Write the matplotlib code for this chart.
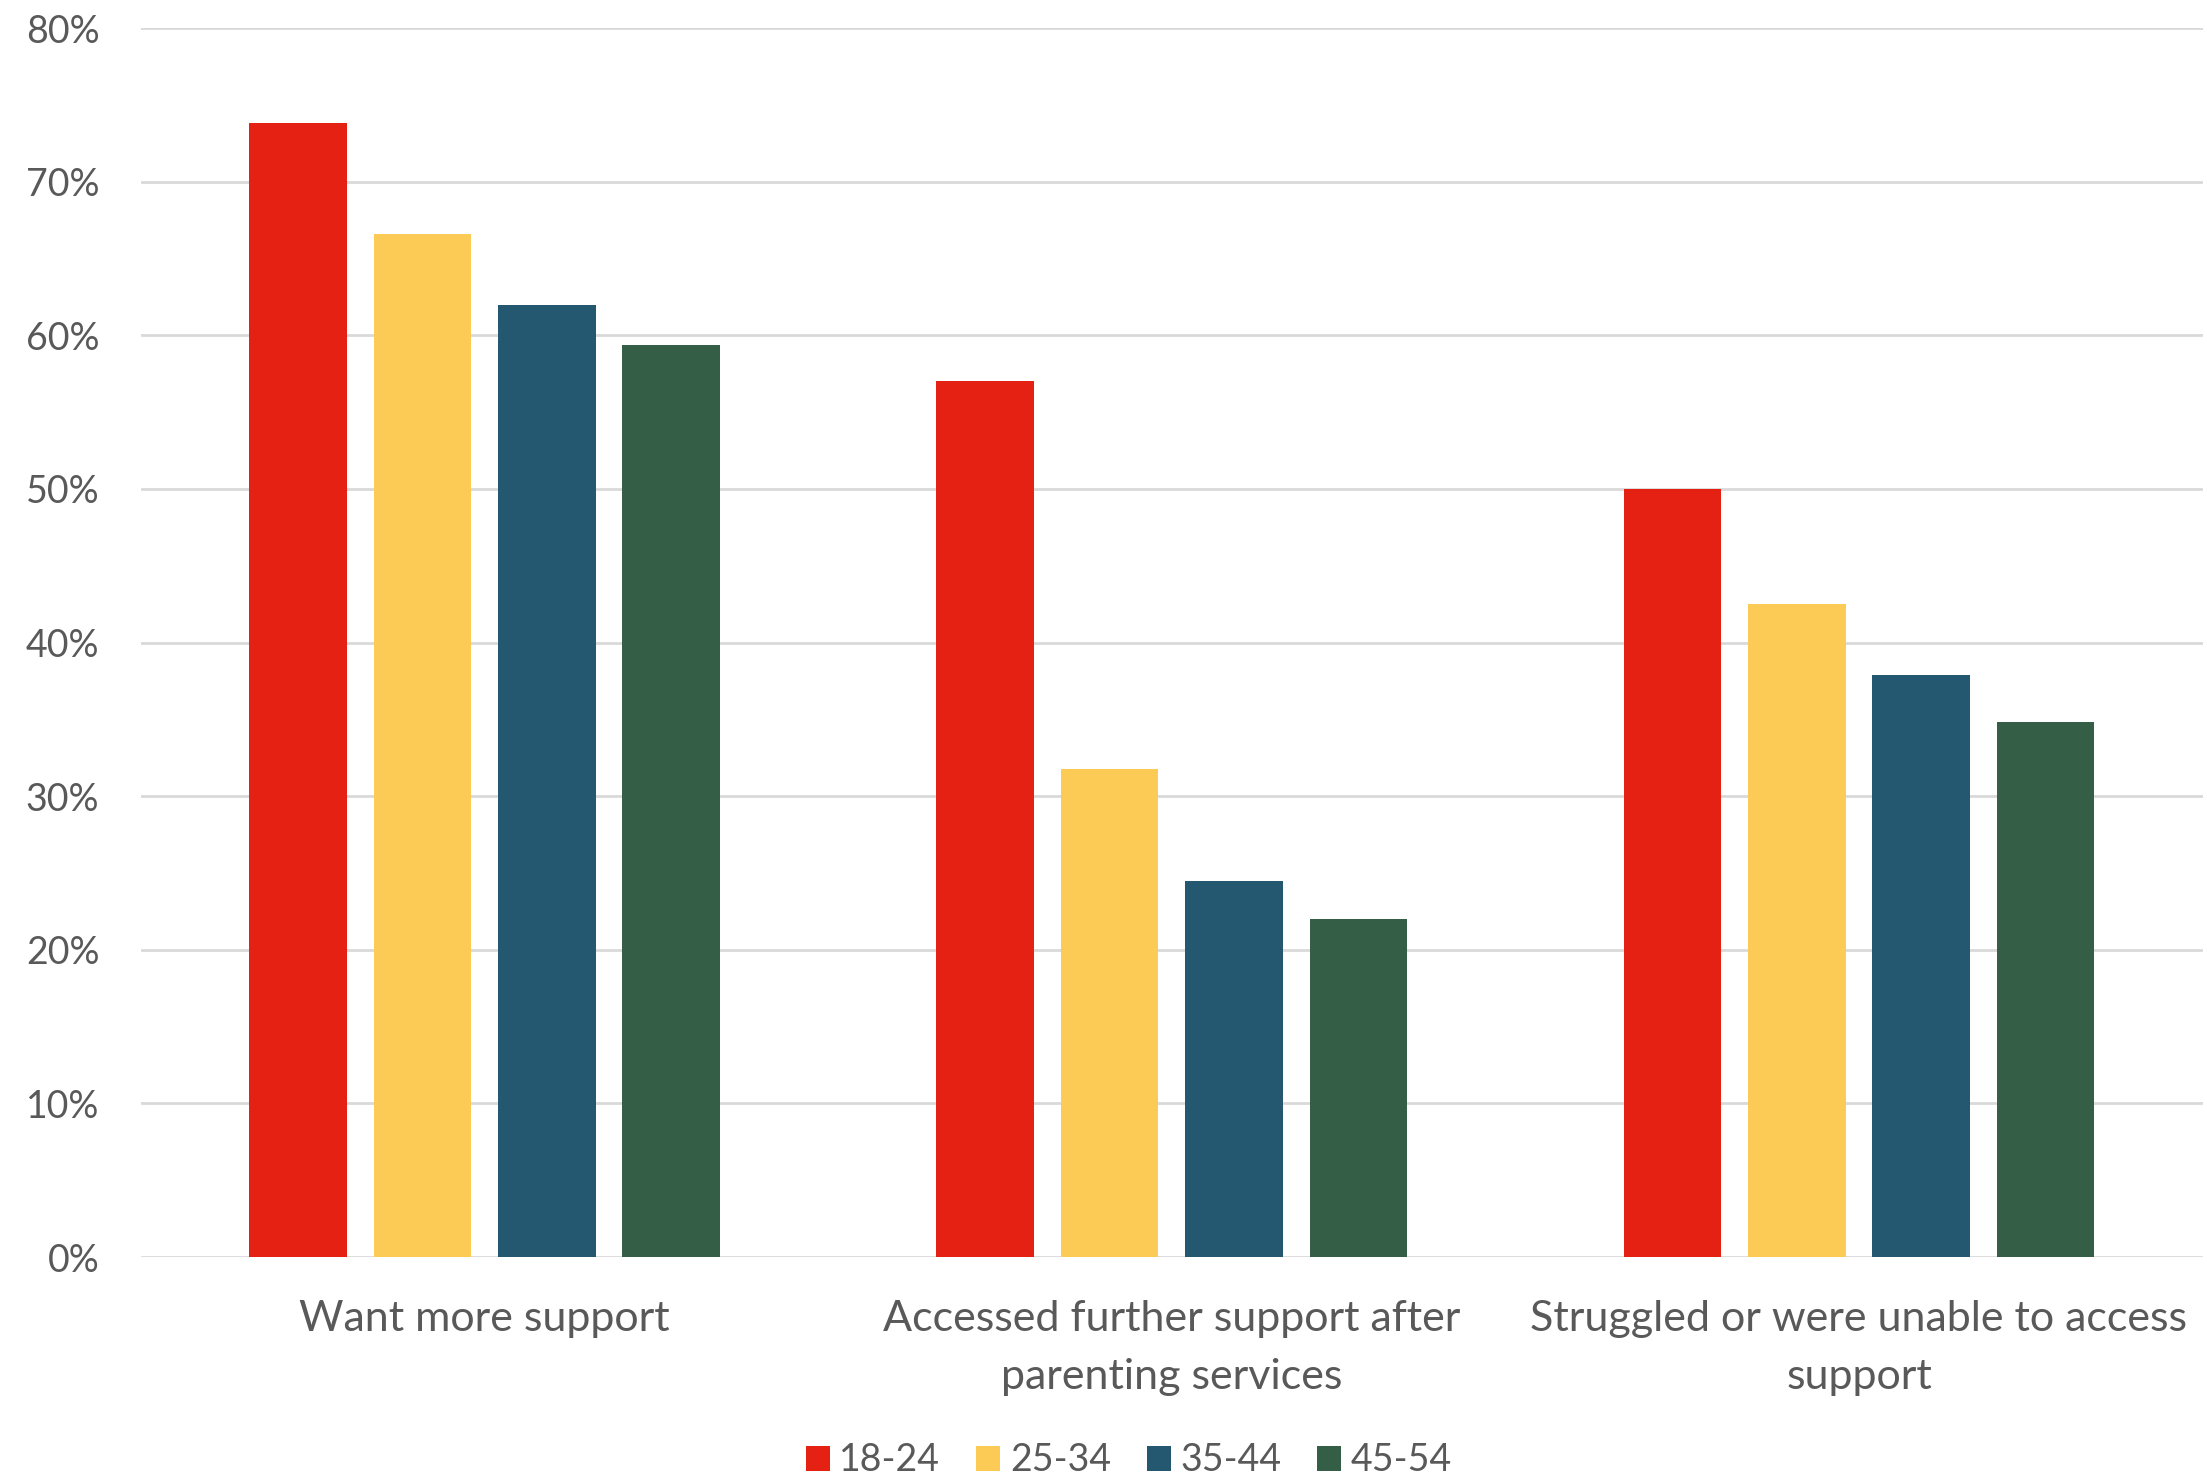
import matplotlib.pyplot as plt
import numpy as np
from matplotlib.ticker import PercentFormatter

plt.rcParams['font.family'] = ['Lato', 'DejaVu Sans']

### data ###
categories = ['Want more support',
              'Accessed further support after\nparenting services',
              'Struggled or were unable to access\nsupport']
age_groups = ['18-24', '25-34', '35-44', '45-54']
values = [[73.8, 57.0, 50.0],  # 18-24
          [66.6, 31.8, 42.5],  # 25-34
          [62.0, 24.5, 37.9],  # 35-44
          [59.4, 22.0, 34.8]]  # 45-54
colors = ['#E52113', '#FCCB55', '#245870', '#355E47']
text_col = '#595959'

fig = plt.figure(figsize=(22.07, 14.78), dpi=100)
ax = fig.add_axes([0.0639, 0.1495, 0.9341, 0.8315])

x = np.arange(len(categories))
width = 0.142
step = 0.181
for i, grp in enumerate(age_groups):
  ax.bar(x + (i - 1.5) * step, values[i], width, color=colors[i], label=grp, zorder=3)

ax.set_xlim(-0.5, 2.5)
ax.set_ylim(0, 80)
ax.set_yticks(np.arange(0, 81, 10))
ax.yaxis.set_major_formatter(PercentFormatter(decimals=0))
ax.grid(axis='y', color='#D9D9D9', linewidth=2, zorder=0)
for s in ax.spines.values():
  s.set_visible(False)

ax.set_xticks(x)
ax.set_xticklabels(categories, linespacing=1.65)
ax.tick_params(axis='x', length=0, pad=31, labelsize=31, labelcolor=text_col)
ax.tick_params(axis='y', length=0, pad=30, labelsize=27, labelcolor=text_col)

fig.legend(loc='lower center', bbox_to_anchor=(0.5115, -0.023), ncol=4, frameon=False,
           fontsize=27, labelcolor=text_col, handlelength=0.65, handleheight=0.65,
           handletextpad=0.25, columnspacing=0.95)

plt.savefig('out.png', dpi=100)
